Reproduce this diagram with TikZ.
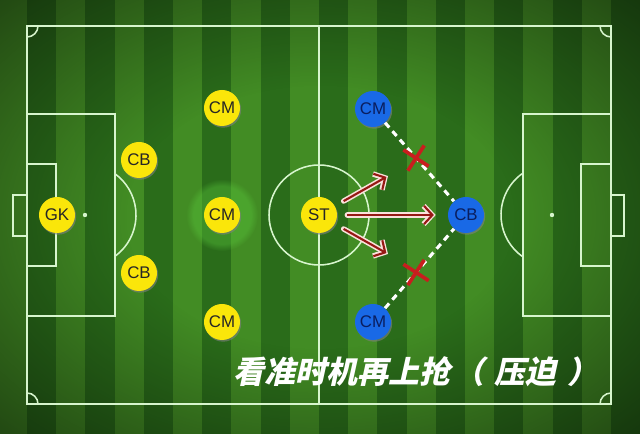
\documentclass[tikz,border=0pt]{standalone}
\usepackage{fontspec}
\newfontfamily\cjk[FakeSlant=0.22]{Noto Sans CJK SC}
\newfontfamily\labfont{Liberation Sans}
\usetikzlibrary{arrows.meta,shapes.misc,shadows,fadings}

\definecolor{grassdark}{RGB}{42,108,26}
\definecolor{grasslight}{RGB}{66,140,36}
\definecolor{grassglow}{RGB}{90,200,60}
\definecolor{pitchline}{RGB}{215,245,205}
\definecolor{plyellow}{RGB}{250,230,10}
\definecolor{plblue}{RGB}{25,105,230}
\definecolor{navy}{RGB}{10,30,95}
\definecolor{pressred}{RGB}{150,25,20}
\definecolor{pressedge}{RGB}{250,225,220}
\definecolor{cutred}{RGB}{200,30,30}

\pgfdeclareradialshading{vigshade}{\pgfpoint{0bp}{0bp}}{color(0bp)=(black); color(15bp)=(black); color(50bp)=(white!82!black)}
\pgfdeclarefading{vignette}{\pgfuseshading{vigshade}}

\begin{document}
\begin{tikzpicture}[x=0.025cm, y=0.025cm,
                    pitch/.style={draw=pitchline, line width=1.1pt},
                    player/.style={circle, minimum size=0.9cm, inner sep=0pt,
                                   font=\labfont\fontsize{12}{12}\selectfont,
                                   drop shadow={opacity=0.6, shadow xshift=0.8pt, shadow yshift=-1.2pt}},
                    home/.style={player, fill=plyellow, text=black!85},
                    away/.style={player, fill=plblue, text=navy},
                    pressback/.style={draw=pressedge, line width=3.8pt, line cap=round, shorten <=0.25cm,
                                      -{Straight Barb[length=6pt, width=13pt, line width=3.8pt]}},
                    pressfront/.style={draw=pressred, line width=1.5pt, shorten <=0.25cm,
                                       -{Straight Barb[length=6pt, width=13pt, line width=1.5pt]}},
                    cover/.style={draw=white, line width=2.2pt, dash pattern=on 4.5pt off 3.5pt},
                    xcut/.style={cross out, solid, draw=cutred, line width=2.6pt, minimum size=0.44cm,
                                 inner sep=0pt, rotate=12}]

\useasboundingbox (0,0) rectangle (640,434);

% grass
\foreach \i in {0,2,...,20}
	\fill[grasslight] (-2.2+\i*29.2,0) rectangle (27+\i*29.2,434);
\foreach \i in {1,3,...,21}
	\fill[grassdark] (-2.2+\i*29.2,0) rectangle (27+\i*29.2,434);
\fill[grassglow, opacity=0.4, path fading=circle with fuzzy edge 20 percent] (222,219) circle[radius=36];
\fill[black, path fading=vignette, fit fading=true] (0,0) rectangle (640,434);

% pitch
\draw[pitch] (27,30) rectangle (611,408);
\draw[pitch] (319,30) -- (319,408);
\draw[pitch] (319,219) circle[radius=50];
\draw[pitch] (38,408) arc[start angle=0, end angle=-90, radius=11];
\draw[pitch] (38,30) arc[start angle=0, end angle=90, radius=11];
\draw[pitch] (600,408) arc[start angle=180, end angle=270, radius=11];
\draw[pitch] (600,30) arc[start angle=180, end angle=90, radius=11];

\draw[pitch] (27,118) rectangle (115,320);
\draw[pitch] (27,168) rectangle (56,270);
\draw[pitch] (13,198) rectangle (27,239);
\fill[pitchline] (85,219) circle[radius=2.2];
\draw[pitch] (85,219) ++(-54:51) arc[start angle=-54, end angle=54, radius=51];

\draw[pitch] (523,118) rectangle (611,320);
\draw[pitch] (581,168) rectangle (611,270);
\draw[pitch] (611,198) rectangle (624,239);
\fill[pitchline] (552,219) circle[radius=2.2];
\draw[pitch] (552,219) ++(126:51) arc[start angle=126, end angle=234, radius=51];

% yellow side
\node[home] (gk) at (57,219) {GK};
\node[home] (cbup) at (139,274) {CB};
\node[home] (cbdown) at (139,161) {CB};
\node[home] (cmup) at (222,326) {CM};
\node[home] (cmmid) at (222,219) {CM};
\node[home] (cmdown) at (222,112) {CM};
\node[home] (st) at (319,219) {ST};

% blue side
\node[away] (bcmup) at (373,325) {CM};
\node[away] (bcb) at (466,219) {CB};
\node[away] (bcmdown) at (373,112) {CM};

\coordinate (runup) at (388,258);
\coordinate (rundown) at (388,180);

\foreach \tgt/\gap in {runup/0pt, bcb/0.3cm, rundown/0pt} {
	\draw[pressback, shorten >=\gap] (st) -- (\tgt);
	\draw[pressfront, shorten >=\gap+1.3pt] (st) -- (\tgt);
}

\draw[cover] (bcmup) -- node[xcut, pos=0.45] (cutup) {} (bcb);
\draw[cover] (bcmdown) -- node[xcut, pos=0.45] (cutdown) {} (bcb);

\node[text=white, font=\cjk\bfseries\fontsize{22}{22}\selectfont] (caption) at (416,62)
	{看准时机再上抢\hspace{0.1em}（\hspace{0.35em}压迫\hspace{0.35em}）};

\end{tikzpicture}
\end{document}
